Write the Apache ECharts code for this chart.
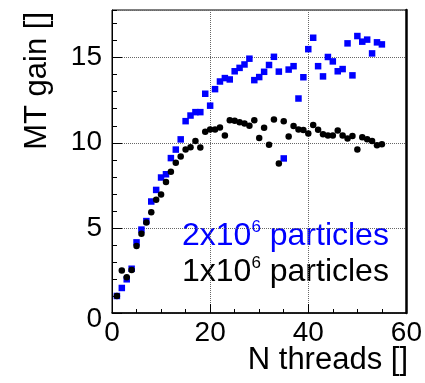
<!DOCTYPE html>
<html>
<head>
<meta charset="utf-8">
<script src="https://cdn.jsdelivr.net/npm/echarts/dist/echarts.min.js"></script>
<style>
  html, body { margin: 0; padding: 0; background: #fff; }
  #chart { width: 425px; height: 383px; }
</style>
</head>
<body>
<div id="chart"></div>
<script>
// number of threads
var threads = [1, 2, 3, 4, 5, 6, 7, 8, 9, 10, 11, 12, 13, 14, 15, 16, 17, 18, 19, 20,
    21, 22, 23, 24, 25, 26, 27, 28, 29, 30, 31, 32, 33, 34, 35, 36, 37, 38, 39, 40,
    41, 42, 43, 44, 45, 46, 47, 48, 49, 50, 51, 52, 53, 54, 55];
// MT gain, 2x10^6 particles
var gain2M = [1.0, 1.47, 1.98, 2.6, 4.15, 4.9, 5.4, 6.55, 7.23, 7.96,
    8.15, 9.1, 9.6, 10.2, 11.27, 11.6, 11.8, 11.8, 12.88, 12.18,
    13.15, 13.6, 13.8, 13.72, 14.2, 14.4, 14.6, 14.94, 13.68, 13.86,
    14.17, 14.57, 15.05, 14.18, 9.08, 14.3, 14.5, 12.6, 13.85, 15.5,
    16.17, 14.5, 13.9, 15.04, 14.78, 14.2, 14.33, 15.84, 13.96, 16.27,
    15.94, 16.06, 15.25, 15.9, 15.78];
// MT gain, 1x10^6 particles
var gain1M = [1.0, 2.49, 2.1, 2.53, 3.94, 4.65, 5.31, 5.92, 6.66, 6.96,
    7.7, 8.3, 8.82, 9.2, 9.6, 9.74, 10.1, 9.72, 10.65, 10.78,
    10.78, 10.9, 10.43, 11.33, 11.29, 11.2, 11.13, 11.0, 11.33, 10.28,
    10.88, 9.88, 11.37, 8.78, 11.26, 10.37, 10.98, 10.78, 10.75, 10.55,
    11.05, 10.76, 10.5, 10.43, 10.43, 10.72, 10.43, 10.25, 10.4, 9.6,
    10.33, 10.2, 10.1, 9.86, 9.92];

var font = 'Liberation Sans, Arial, sans-serif';

function pairs(xs, ys) {
    var out = [];
    for (var i = 0; i < xs.length; i++) {
        out.push([xs[i], ys[i]]);
    }
    return out;
}

var chart = echarts.init(document.getElementById('chart'));

var gridLine = { show: true, lineStyle: { color: '#666', type: 'dotted', width: 1 } };

chart.setOption({
    animation: false,
    grid: {
        left: 112, right: 17, top: 10, bottom: 70,
        show: true, borderColor: '#000', borderWidth: 1
    },
    xAxis: {
        type: 'value', min: 0, max: 60, interval: 20,
        axisLine: { show: true, lineStyle: { color: '#000', width: 1.5 } },
        axisTick: { show: true, inside: true, length: 9, lineStyle: { color: '#000' } },
        minorTick: { show: true, splitNumber: 4, length: 4, lineStyle: { color: '#000' } },
        splitLine: gridLine,
        axisLabel: { color: '#000', fontSize: 28, fontFamily: font, margin: 6 }
    },
    yAxis: [{
        type: 'value', min: 0, max: 17.8, interval: 5,
        axisLine: { show: true, lineStyle: { color: '#000' } },
        axisTick: { show: true, inside: true, length: 10, lineStyle: { color: '#000' } },
        splitLine: gridLine,
        axisLabel: {
            color: '#000', fontSize: 28, fontFamily: font, margin: 10,
            showMaxLabel: false,
            formatter: function(v) {
                return v === 0 ? '{z|0}' : String(v);
            },
            rich: { z: { fontSize: 28, fontFamily: font, color: '#000', padding: [12, 0, 0, 0] } }
        }
    }, {
        type: 'value', min: 0, max: 17.8, interval: 1, position: 'left',
        axisLine: { show: false },
        axisTick: { show: true, inside: true, length: 5, lineStyle: { color: '#000' } },
        splitLine: { show: false },
        axisLabel: { show: false }
    }, {
        type: 'value', min: 0, max: 17.8, position: 'right',
        axisLine: { show: true, lineStyle: { color: '#000', width: 2.5 } },
        axisTick: { show: false },
        splitLine: { show: false },
        axisLabel: { show: false }
    }],
    graphic: [{
        type: 'text', left: 182, top: 219,
        style: {
            text: '{a|2x10}{s|6}{a| particles}',
            fill: '#0000ff',
            rich: {
                a: { fontSize: 32, fontFamily: font, fill: '#0000ff', lineHeight: 35 },
                s: { fontSize: 17, fontFamily: font, fill: '#0000ff', verticalAlign: 'top', lineHeight: 35, padding: [0, 0, 8, 0] }
            }
        }
    }, {
        type: 'text', left: 182, top: 255,
        style: {
            text: '{a|1x10}{s|6}{a| particles}',
            fill: '#000',
            rich: {
                a: { fontSize: 32, fontFamily: font, fill: '#000', lineHeight: 35 },
                s: { fontSize: 17, fontFamily: font, fill: '#000', verticalAlign: 'top', lineHeight: 35, padding: [0, 0, 8, 0] }
            }
        }
    }, {
        type: 'text', right: 17, top: 345,
        style: { text: 'N threads []', fontSize: 31, fontFamily: font, fill: '#000' }
    }, {
        type: 'text', x: 37, y: 12, rotation: Math.PI / 2,
        style: {
            text: 'MT gain []', fontSize: 31, fontFamily: font, fill: '#000',
            align: 'right', verticalAlign: 'middle'
        }
    }],
    series: [{
        name: '2x10^6 particles',
        type: 'scatter',
        symbol: 'rect',
        symbolSize: 6.5,
        itemStyle: { color: '#0000ff', opacity: 1 },
        data: pairs(threads, gain2M)
    }, {
        name: '1x10^6 particles',
        type: 'scatter',
        symbol: 'circle',
        symbolSize: 6.5,
        itemStyle: { color: '#000', opacity: 1 },
        data: pairs(threads, gain1M)
    }]
});
</script>
</body>
</html>
